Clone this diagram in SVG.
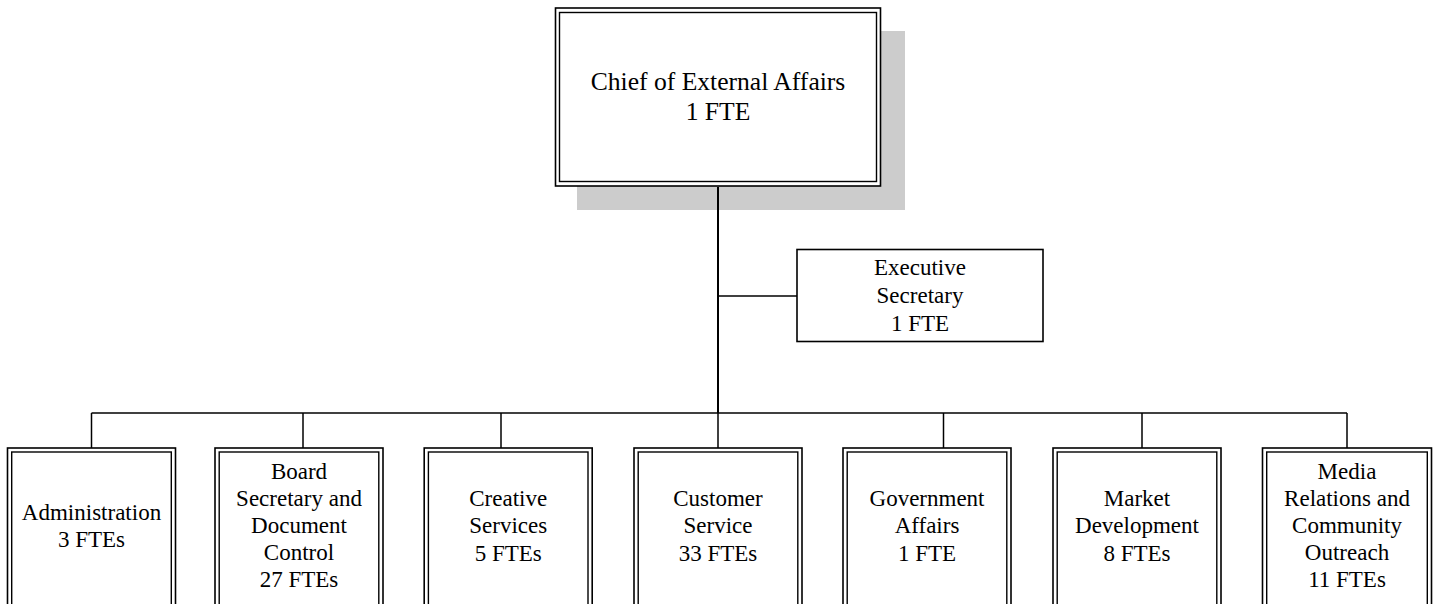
<svg xmlns="http://www.w3.org/2000/svg" width="1434" height="604" viewBox="0 0 1434 604">
  <style>
    .bg { fill: #ffffff; }
    .shadow { fill: #cccccc; }
    .outer { fill: #ffffff; stroke: #000000; stroke-width: 1.6; }
    .inner { fill: none; stroke: #000000; stroke-width: 1.4; }
    .single { fill: #ffffff; stroke: #000000; stroke-width: 1.6; }
    .wire { fill: none; stroke: #000000; stroke-width: 1.5; }
    .trunk { fill: none; stroke: #000000; stroke-width: 2; }
    text { font-family: "Liberation Serif", "Times New Roman", serif; fill: #000000; text-anchor: middle; }
    .big { font-size: 25.6px; }
    .lbl { font-size: 23px; }
  </style>

  <rect class="bg" x="0" y="0" width="1434" height="604"/>

  <!-- reporting lines -->
  <g id="connectors">
    <line class="trunk" x1="718" y1="186" x2="718" y2="413"/>
    <line class="wire" x1="718" y1="296" x2="797" y2="296"/>
    <line class="wire" x1="91.5" y1="413" x2="1347" y2="413"/>
    <line class="wire" x1="91.5" y1="413" x2="91.5" y2="448"/>
    <line class="wire" x1="303" y1="413" x2="303" y2="448"/>
    <line class="wire" x1="501" y1="413" x2="501" y2="448"/>
    <line class="wire" x1="718" y1="413" x2="718" y2="448"/>
    <line class="wire" x1="943.5" y1="413" x2="943.5" y2="448"/>
    <line class="wire" x1="1142" y1="413" x2="1142" y2="448"/>
    <line class="wire" x1="1347" y1="413" x2="1347" y2="448"/>
  </g>

  <!-- head of department, with drop shadow -->
  <g id="chief">
    <rect class="shadow" x="577" y="31" width="328" height="179"/>
    <rect class="outer" x="555.5" y="8" width="325" height="178"/>
    <rect class="inner" x="559.5" y="12.5" width="317" height="169"/>
    <text class="big" x="718" y="89.5">Chief of External Affairs</text>
    <text class="big" x="718" y="120">1 FTE</text>
  </g>
  <line class="trunk" x1="718" y1="187" x2="718" y2="210"/>

  <g id="executive-secretary">
    <rect class="single" x="797" y="249.5" width="246" height="92"/>
    <text class="lbl" x="920" y="275">Executive</text>
    <text class="lbl" x="920" y="303">Secretary</text>
    <text class="lbl" x="920" y="331">1 FTE</text>
  </g>

  <!-- divisions -->
  <g id="administration">
    <rect class="outer" x="7.5" y="448" width="168" height="170"/>
    <rect class="inner" x="11.7" y="452" width="159.6" height="170"/>
    <text class="lbl" x="91.5" y="520">Administration</text>
    <text class="lbl" x="91.5" y="547.3">3 FTEs</text>
  </g>

  <g id="board-secretary">
    <rect class="outer" x="215" y="448" width="168" height="170"/>
    <rect class="inner" x="219.2" y="452" width="159.6" height="170"/>
    <text class="lbl" x="299" y="478.5">Board</text>
    <text class="lbl" x="299" y="505.7">Secretary and</text>
    <text class="lbl" x="299" y="532.9">Document</text>
    <text class="lbl" x="299" y="560.1">Control</text>
    <text class="lbl" x="299" y="587.3">27 FTEs</text>
  </g>

  <g id="creative-services">
    <rect class="outer" x="424.2" y="448" width="168" height="170"/>
    <rect class="inner" x="428.4" y="452" width="159.6" height="170"/>
    <text class="lbl" x="508.2" y="506">Creative</text>
    <text class="lbl" x="508.2" y="533.2">Services</text>
    <text class="lbl" x="508.2" y="560.5">5 FTEs</text>
  </g>

  <g id="customer-service">
    <rect class="outer" x="634" y="448" width="168" height="170"/>
    <rect class="inner" x="638.2" y="452" width="159.6" height="170"/>
    <text class="lbl" x="718" y="506">Customer</text>
    <text class="lbl" x="718" y="533.2">Service</text>
    <text class="lbl" x="718" y="560.5">33 FTEs</text>
  </g>

  <g id="government-affairs">
    <rect class="outer" x="843" y="448" width="168" height="170"/>
    <rect class="inner" x="847.2" y="452" width="159.6" height="170"/>
    <text class="lbl" x="927" y="506">Government</text>
    <text class="lbl" x="927" y="533.2">Affairs</text>
    <text class="lbl" x="927" y="560.5">1 FTE</text>
  </g>

  <g id="market-development">
    <rect class="outer" x="1053" y="448" width="168" height="170"/>
    <rect class="inner" x="1057.2" y="452" width="159.6" height="170"/>
    <text class="lbl" x="1137" y="506">Market</text>
    <text class="lbl" x="1137" y="533.2">Development</text>
    <text class="lbl" x="1137" y="560.5">8 FTEs</text>
  </g>

  <g id="media-relations">
    <rect class="outer" x="1262.5" y="448" width="169" height="170"/>
    <rect class="inner" x="1266.7" y="452" width="160.6" height="170"/>
    <text class="lbl" x="1347" y="478.5">Media</text>
    <text class="lbl" x="1347" y="505.7">Relations and</text>
    <text class="lbl" x="1347" y="532.9">Community</text>
    <text class="lbl" x="1347" y="560.1">Outreach</text>
    <text class="lbl" x="1347" y="587.3">11 FTEs</text>
  </g>
</svg>
